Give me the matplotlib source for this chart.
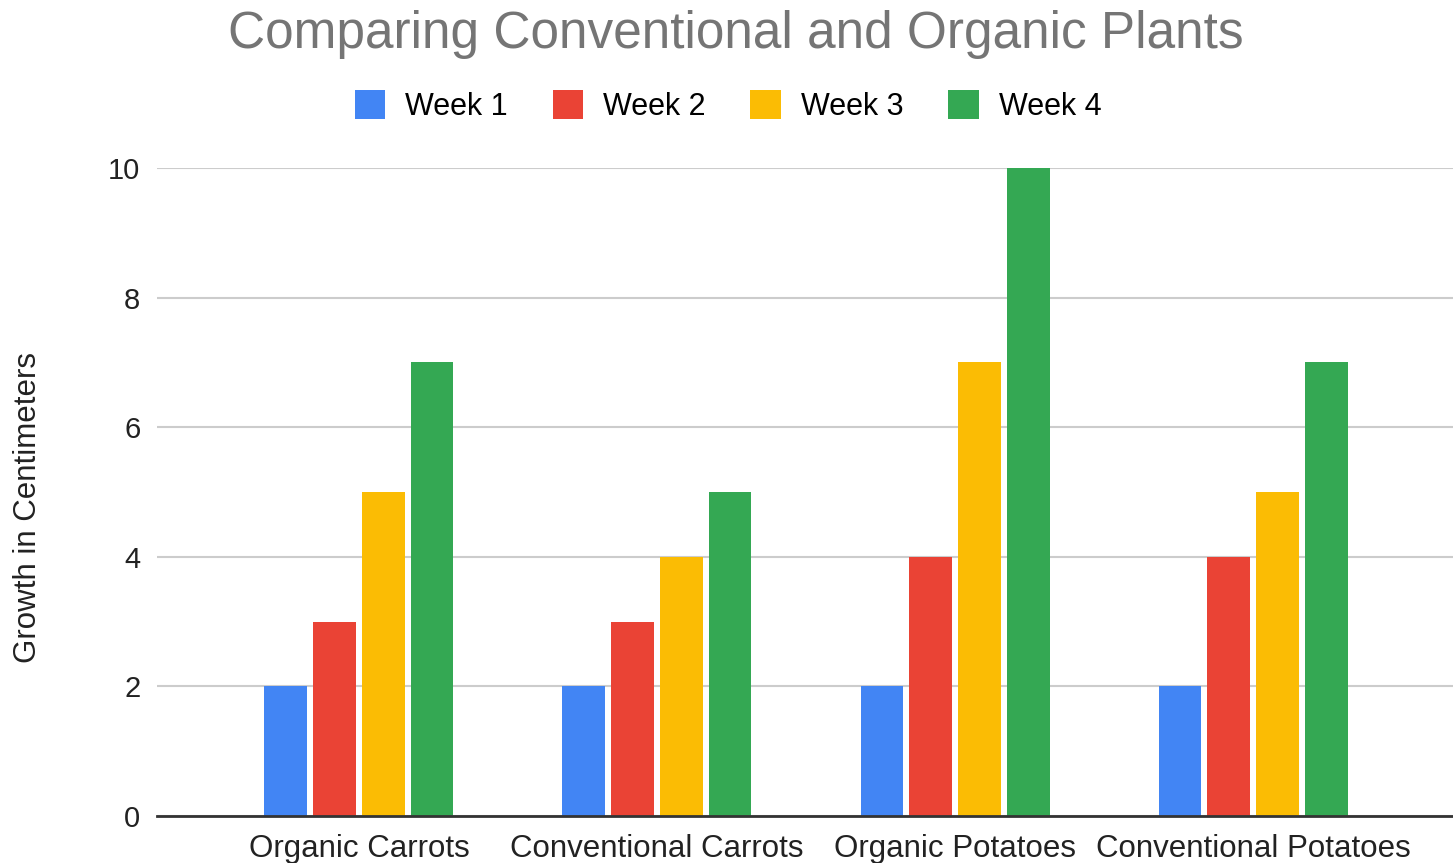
import matplotlib
matplotlib.use('Agg')
import matplotlib.pyplot as plt
import numpy as np

plt.rcParams['font.family'] = ['Liberation Sans', 'DejaVu Sans']

# 数据
categories = ['Organic Carrots', 'Conventional Carrots', 'Organic Potatoes', 'Conventional Potatoes']
series_names = ['Week 1', 'Week 2', 'Week 3', 'Week 4']
week1 = [2, 2, 2, 2]
week2 = [3, 3, 4, 4]
week3 = [5, 4, 7, 5]
week4 = [7, 5, 10, 7]
colors = ['#4285F4', '#EA4335', '#FBBC04', '#34A853']
yticks = [0, 2, 4, 6, 8, 10]

fig = plt.figure(figsize=(14.53, 8.63), dpi=100)
ax = fig.add_axes([0.108, 0.0545, 0.892, 0.7508])

x = np.arange(len(categories))
width = 0.144
step = 0.1634
for i, (vals, name) in enumerate(zip([week1, week2, week3, week4], series_names)):
    ax.bar(x + (i - 1.5) * step, vals, width=width, color=colors[i], label=name,
           zorder=3, clip_on=False)

ax.set_xlim(-0.678, 3.671)
ax.set_ylim(0, 10)
ax.set_yticks(yticks)
ax.set_xticks(x)
ax.set_xticklabels(categories, fontsize=22.5, color='#222222')
ax.tick_params(axis='y', length=0, pad=12, labelsize=21, labelcolor='#222222')
ax.tick_params(axis='x', length=0, pad=13)
ax.grid(True, axis='y', color='#cccccc', linewidth=1.5, zorder=0)
for s in ['top', 'right', 'left']:
    ax.spines[s].set_visible(False)
ax.spines['bottom'].set_color('#333333')
ax.spines['bottom'].set_linewidth(2)
ax.spines['bottom'].set_zorder(4)

fig.text(0.5066, 0.96, 'Comparing Conventional and Organic Plants', ha='center', va='center',
         fontsize=37, color='#757575')
fig.text(0.019, 0.412, 'Growth in Centimeters', rotation=90, ha='center', va='center',
         fontsize=22.5, color='#222222')

fig.legend(loc='center', bbox_to_anchor=(0.501, 0.8775), ncol=4, frameon=False,
           fontsize=22, handlelength=1.0, handleheight=1.1, handletextpad=0.65,
           columnspacing=1.47)

plt.savefig('out.png', dpi=100)
